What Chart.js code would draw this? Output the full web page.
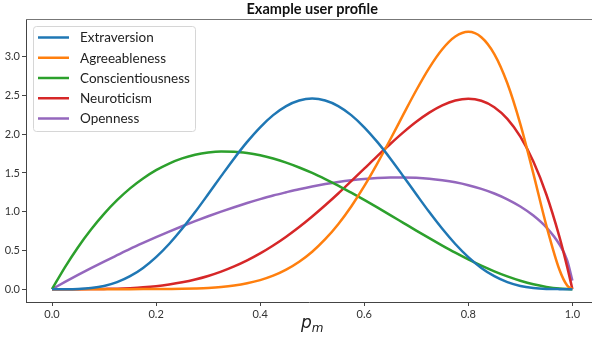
<!DOCTYPE html>
<html>
<head>
<meta charset="utf-8">
<script src="https://cdn.jsdelivr.net/npm/chart.js@4/dist/chart.umd.min.js"></script>
<style>
  html, body { margin: 0; padding: 0; background: #fff; }
  canvas { display: block; }
</style>
</head>
<body>
<canvas id="c" width="592" height="340"></canvas>
<script>
// Trait density curves over the model probability p_m
const chartTitle = 'Example user profile';
const traits = ['Extraversion', 'Agreeableness', 'Conscientiousness', 'Neuroticism', 'Openness'];
const traitColors = ['#1f77b4', '#ff7f0e', '#2ca02c', '#d62728', '#9467bd'];

const pm = [0, 0.025, 0.05, 0.075, 0.1, 0.125, 0.15, 0.175, 0.2, 0.225, 0.25, 0.275, 0.3, 0.325,
            0.35, 0.375, 0.4, 0.425, 0.45, 0.475, 0.5, 0.525, 0.55, 0.575, 0.6, 0.625, 0.65, 0.675,
            0.7, 0.725, 0.75, 0.775, 0.8, 0.825, 0.85, 0.875, 0.9, 0.925, 0.95, 0.975, 0.99, 1.0];

const extraversion = [0, 0.0002, 0.003, 0.015, 0.041, 0.090, 0.167, 0.274, 0.413, 0.583, 0.779, 0.995, 1.225, 1.459,
                      1.688, 1.901, 2.090, 2.247, 2.364, 2.436, 2.461, 2.436, 2.364, 2.247, 2.090, 1.901, 1.688, 1.459,
                      1.225, 0.995, 0.779, 0.583, 0.413, 0.274, 0.167, 0.090, 0.041, 0.015, 0.003, 0.0002, 0, 0];
const agreeableness = [0, 0, 0, 0, 0, 0, 0.0001, 0.0003, 0.001, 0.002, 0.004, 0.009, 0.016, 0.028,
                       0.047, 0.076, 0.117, 0.174, 0.252, 0.354, 0.483, 0.645, 0.839, 1.068, 1.330, 1.621, 1.932, 2.253,
                       2.568, 2.857, 3.097, 3.261, 3.322, 3.253, 3.035, 2.658, 2.131, 1.492, 0.821, 0.253, 0.046, 0];
const conscientiousness = [0, 0.285, 0.542, 0.770, 0.972, 1.148, 1.301, 1.429, 1.536, 1.622, 1.688, 1.735, 1.764, 1.777,
                           1.775, 1.758, 1.728, 1.686, 1.634, 1.571, 1.500, 1.421, 1.337, 1.246, 1.152, 1.055, 0.956, 0.856,
                           0.756, 0.658, 0.563, 0.471, 0.384, 0.303, 0.230, 0.164, 0.108, 0.062, 0.029, 0.007, 0.001, 0];
const neuroticism = [0, 0, 0.0002, 0.0009, 0.003, 0.006, 0.013, 0.023, 0.038, 0.060, 0.088, 0.124, 0.170, 0.226,
                     0.293, 0.371, 0.461, 0.563, 0.677, 0.802, 0.938, 1.083, 1.235, 1.394, 1.555, 1.717, 1.874, 2.024,
                     2.161, 2.279, 2.373, 2.435, 2.458, 2.432, 2.349, 2.198, 1.968, 1.647, 1.222, 0.678, 0.288, 0];
const openness = [0, 0.093, 0.183, 0.271, 0.356, 0.438, 0.519, 0.596, 0.671, 0.743, 0.812, 0.878, 0.941, 1.001,
                  1.058, 1.112, 1.162, 1.209, 1.251, 1.291, 1.326, 1.357, 1.384, 1.406, 1.423, 1.435, 1.442, 1.443,
                  1.438, 1.426, 1.406, 1.379, 1.342, 1.294, 1.235, 1.160, 1.067, 0.950, 0.797, 0.578, 0.371, 0.11];

const xTicks = [0.0, 0.2, 0.4, 0.6, 0.8, 1.0];
const yTicks = [0.0, 0.5, 1.0, 1.5, 2.0, 2.5, 3.0];

const series = [extraversion, agreeableness, conscientiousness, neuroticism, openness];

const datasets = traits.map((name, i) => ({
  label: name,
  data: pm.map((x, j) => ({ x: x, y: series[i][j] })),
  borderColor: traitColors[i],
  backgroundColor: traitColors[i],
  borderWidth: 2.5,
  pointRadius: 0,
  fill: false,
  cubicInterpolationMode: 'monotone'
}));

const tickFont = { family: 'Lato', size: 11 };
const spineColor = '#444';

// Title, top spine, axis label with subscript, and an in-axes legend box
const decorations = {
  id: 'decorations',
  afterDatasetsDraw(chart) {
    const ctx = chart.ctx;
    const a = chart.chartArea;
    const xs = chart.scales.x;
    ctx.save();

    // top spine
    ctx.strokeStyle = '#777';
    ctx.lineWidth = 1;
    ctx.beginPath();
    ctx.moveTo(a.left, a.top + 0.5);
    ctx.lineTo(a.right, a.top + 0.5);
    ctx.stroke();

    const cx = xs.getPixelForValue(0.5);

    // title
    ctx.fillStyle = '#111';
    ctx.font = 'bold 14.5px Lato';
    ctx.textAlign = 'center';
    ctx.textBaseline = 'alphabetic';
    ctx.fillText(chartTitle, cx, 14);

    // x-axis label p_m
    ctx.textAlign = 'left';
    const pFont = 'oblique 17px "DejaVu Sans"';
    const mFont = 'oblique 12px "DejaVu Sans"';
    ctx.font = pFont;
    const wp = ctx.measureText('p').width;
    ctx.font = mFont;
    const wm = ctx.measureText('m').width;
    const x0 = cx - (wp + wm) / 2;
    ctx.fillStyle = '#222';
    ctx.font = pFont;
    ctx.fillText('p', x0, 328);
    ctx.font = mFont;
    ctx.fillText('m', x0 + wp, 332);

    // legend
    const lx = 33.5, ly = 26.5, lw = 162, lh = 105, r = 3;
    ctx.beginPath();
    ctx.moveTo(lx + r, ly);
    ctx.lineTo(lx + lw - r, ly);
    ctx.quadraticCurveTo(lx + lw, ly, lx + lw, ly + r);
    ctx.lineTo(lx + lw, ly + lh - r);
    ctx.quadraticCurveTo(lx + lw, ly + lh, lx + lw - r, ly + lh);
    ctx.lineTo(lx + r, ly + lh);
    ctx.quadraticCurveTo(lx, ly + lh, lx, ly + lh - r);
    ctx.lineTo(lx, ly + r);
    ctx.quadraticCurveTo(lx, ly, lx + r, ly);
    ctx.closePath();
    ctx.fillStyle = 'rgba(255,255,255,0.8)';
    ctx.fill();
    ctx.strokeStyle = '#d6d6d6';
    ctx.lineWidth = 1;
    ctx.stroke();

    ctx.font = '13.5px Lato';
    ctx.textBaseline = 'middle';
    chart.data.datasets.forEach((ds, i) => {
      const y = 37.5 + i * 20.25;
      ctx.strokeStyle = ds.borderColor;
      ctx.lineWidth = 2.5;
      ctx.beginPath();
      ctx.moveTo(38, y);
      ctx.lineTo(69, y);
      ctx.stroke();
      ctx.fillStyle = '#222';
      ctx.fillText(ds.label, 80, y + 0.5);
    });

    ctx.restore();
  }
};

new Chart(document.getElementById('c'), {
  type: 'line',
  data: { datasets: datasets },
  options: {
    responsive: false,
    animation: false,
    devicePixelRatio: 1,
    layout: { padding: { top: 19, right: 0, bottom: 0, left: 0 } },
    plugins: {
      legend: { display: false },
      title: { display: false },
      tooltip: { enabled: false }
    },
    scales: {
      x: {
        type: 'linear',
        min: -0.05,
        max: 1.0377,
        afterBuildTicks(scale) { scale.ticks = xTicks.map(v => ({ value: v })); },
        afterFit(scale) { scale.height = 38; },
        ticks: {
          font: tickFont,
          color: '#333',
          padding: 2,
          maxRotation: 0,
          callback: v => v.toFixed(1)
        },
        grid: { display: true, drawOnChartArea: false, drawTicks: true, tickLength: 4, color: spineColor },
        border: { display: true, color: spineColor, width: 1 }
      },
      y: {
        type: 'linear',
        min: -0.166,
        max: 3.488,
        afterBuildTicks(scale) { scale.ticks = yTicks.map(v => ({ value: v })); },
        afterFit(scale) { scale.width = 26; },
        ticks: {
          font: tickFont,
          color: '#333',
          padding: 2,
          callback: v => v.toFixed(1)
        },
        grid: { display: true, drawOnChartArea: false, drawTicks: true, tickLength: 4, color: spineColor },
        border: { display: true, color: spineColor, width: 1 }
      }
    }
  },
  plugins: [decorations]
});
</script>
</body>
</html>
